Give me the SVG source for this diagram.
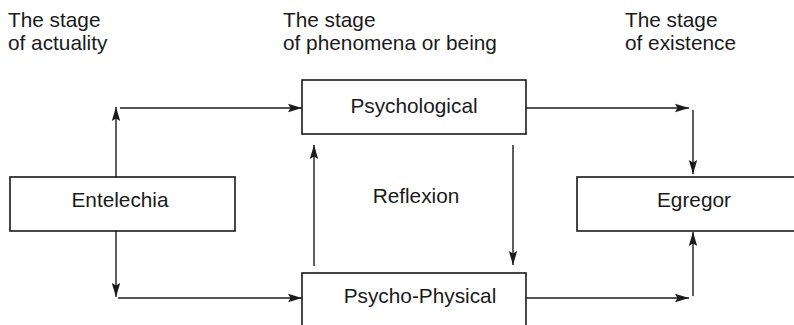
<svg xmlns="http://www.w3.org/2000/svg" width="794" height="325" viewBox="0 0 794 325">
<style>
.box{fill:#fff;stroke:#1a1a1a;stroke-width:1.6}
.t{font-family:"Liberation Sans",Arial,sans-serif;font-size:20.8px;fill:#1a1a1a}
.c{text-anchor:middle}
.ln{fill:none;stroke:#1a1a1a;stroke-width:1.4}
</style>
<defs>
<marker id="ah" markerUnits="userSpaceOnUse" markerWidth="16" markerHeight="10" refX="14" refY="5" orient="auto">
<path d="M0,0.8 L14,5 L0,9.2 L2.5,5 z" fill="#1a1a1a"/>
</marker>
</defs>
<rect width="794" height="325" fill="#fff"/>
<g id="labels">
<text class="t" x="8" y="27">The stage</text>
<text class="t" x="8" y="50">of actuality</text>
<text class="t" x="283" y="27">The stage</text>
<text class="t" x="283" y="50">of phenomena or being</text>
<text class="t" x="625" y="27">The stage</text>
<text class="t" x="625" y="50">of existence</text>
<text class="t c" x="416" y="203">Reflexion</text>
</g>
<g id="connectors">
<polyline class="ln" points="116,177 116,107" marker-end="url(#ah)"/>
<polyline class="ln" points="120,108 302,108" marker-end="url(#ah)"/>
<polyline class="ln" points="116,231 116,297" marker-end="url(#ah)"/>
<polyline class="ln" points="118,298 302,298" marker-end="url(#ah)"/>
<polyline class="ln" points="314,266 314,145" marker-end="url(#ah)"/>
<polyline class="ln" points="513,145 513,265" marker-end="url(#ah)"/>
<polyline class="ln" points="526,108 689,108" marker-end="url(#ah)"/>
<polyline class="ln" points="693,110 693,174" marker-end="url(#ah)"/>
<polyline class="ln" points="526,298 689,298" marker-end="url(#ah)"/>
<polyline class="ln" points="693,296 693,232" marker-end="url(#ah)"/>
</g>
<g id="entelechia">
<rect class="box" x="10" y="177" width="225" height="54"/>
<text class="t c" x="120" y="207">Entelechia</text>
</g>
<g id="psychological">
<rect class="box" x="302" y="80" width="224" height="54"/>
<text class="t c" x="414" y="113">Psychological</text>
</g>
<g id="psycho-physical">
<rect class="box" x="302" y="273" width="224" height="60"/>
<text class="t c" x="420" y="303">Psycho-Physical</text>
</g>
<g id="egregor">
<rect class="box" x="577" y="177" width="240" height="54"/>
<text class="t c" x="694" y="207">Egregor</text>
</g>
</svg>
